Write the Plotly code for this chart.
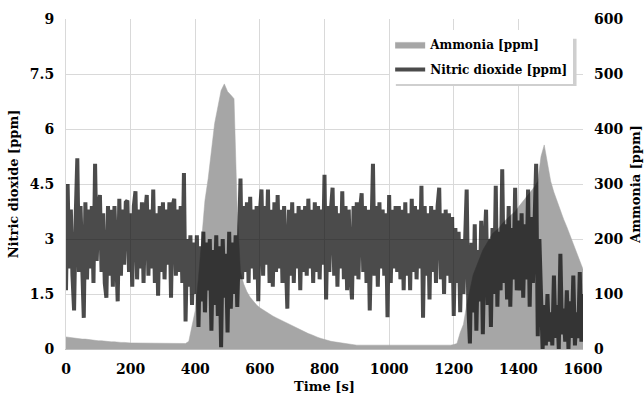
import plotly.graph_objects as go

time_s = list(range(0, 1601, 5))

nitric_dioxide_ppm = [
    1.6, 4.5, 2.2, 3.8, 2.0, 1.05, 3.6, 5.2, 2.1, 3.9,
    2.3, 0.85, 4.0, 1.9, 3.8, 2.2, 3.9, 1.8, 5.05, 2.4,
    3.8, 4.2, 2.1, 3.7, 1.8, 1.4, 3.9, 2.0, 3.8, 1.7,
    3.9, 2.2, 1.3, 4.1, 2.0, 3.8, 2.3, 4.0, 4.05, 2.1,
    3.7, 1.7, 3.9, 4.3, 1.9, 3.8, 2.2, 4.0, 1.8, 3.7,
    4.2, 2.0, 3.8, 2.2, 4.35, 1.8, 3.7, 1.45, 3.9, 2.1,
    4.0, 1.9, 3.8, 2.3, 4.0, 1.4, 3.9, 4.1, 2.0, 3.8,
    2.1, 3.9, 1.8, 4.8, 0.75, 3.0, 1.7, 3.1, 1.2, 2.9,
    1.5, 3.1, 0.6, 2.8, 1.3, 3.2, 1.0, 2.9, 1.6, 3.0,
    0.5, 2.7, 1.2, 3.1, 0.9, 2.8, 0.05, 3.0, 1.4, 2.6,
    0.45, 3.2, 1.1, 2.9, 1.5, 3.1, 1.15, 2.8, 4.65, 1.9,
    3.9, 2.1, 4.0, 1.8, 4.15, 2.2, 3.8, 1.9, 3.9, 1.3,
    3.7, 4.35, 2.0, 3.9, 2.3, 4.35, 1.8, 3.8, 1.7, 4.0,
    2.1, 4.2, 2.2, 3.8, 1.8, 3.9, 2.3, 1.1, 3.8, 2.0,
    4.0, 1.8, 3.7, 2.2, 3.9, 1.6, 3.8, 2.1, 3.9, 2.0,
    4.1, 2.2, 3.8, 1.8, 4.0, 2.1, 3.9, 1.9, 3.8, 2.3,
    4.75, 1.35, 3.9, 2.1, 3.8, 4.4, 2.0, 3.9, 1.7, 3.7,
    2.2, 4.3, 1.9, 3.9, 1.6, 3.8, 2.1, 1.35, 3.9, 2.0,
    4.0, 1.9, 3.8, 4.25, 2.1, 3.9, 1.8, 3.8, 1.05, 3.7,
    5.05, 2.0, 3.9, 1.7, 4.0, 2.2, 3.8, 2.0, 3.7, 0.87,
    4.2, 1.8, 3.8, 2.2, 3.9, 2.1, 3.9, 1.9, 3.8, 1.6,
    4.0, 2.0, 3.7, 1.6, 4.1, 2.1, 3.9, 1.9, 3.8, 2.2,
    4.45, 0.85, 3.9, 2.0, 3.7, 1.35, 3.9, 2.1, 3.8, 1.8,
    3.9, 4.4, 1.9, 3.7, 1.5, 3.8, 2.0, 3.7, 1.8, 3.6,
    0.9, 3.3, 1.8, 3.2, 1.0, 3.0, 1.5, 2.9, 4.35, 1.2,
    0.15, 2.9, 1.0, 3.4, 0.5, 2.7, 1.3, 3.5, 0.4, 2.8,
    3.8, 1.2, 3.0, 0.6, 3.3, 1.5, 4.45, 1.15, 3.2, 1.6,
    4.9, 1.8, 3.4, 1.35, 3.9, 1.15, 3.3, 1.9, 4.4, 1.6,
    3.5, 1.6, 3.7, 1.4, 3.4, 1.9, 4.35, 1.15, 3.6, 1.8,
    3.3, 5.05, 0.35, 3.0, 1.5, 0.0, 1.2, 0.1, 1.5, 0.2,
    1.0, 0.1, 2.0, 0.3, 1.2, 0.0, 2.6, 0.4, 1.1, 0.2,
    1.6, 0.0, 1.3, 0.3, 2.0, 0.1, 1.0, 0.3, 2.1, 0.2,
    1.5,
]

ammonia_time_s = list(range(0, 1601, 10))
ammonia_ppm = [
    22, 21, 20, 20, 19, 18, 18, 17, 16, 16,
    15, 15, 14, 14, 13, 13, 12, 12, 12, 11,
    11, 11, 11, 10, 10, 10, 10, 10, 10, 10,
    10, 10, 10, 10, 10, 10, 10, 10, 14, 40,
    70, 130, 200, 270, 310, 360, 410, 440, 470, 482,
    468, 462, 455, 250, 140, 118, 104, 94, 86, 80,
    75, 71, 67, 63, 60, 57, 54, 51, 48, 45,
    42, 39, 36, 33, 30, 28, 26, 23, 21, 19,
    17, 16, 14, 13, 12, 11, 10, 9, 8, 8,
    7, 7, 7, 7, 6, 6, 6, 6, 6, 6,
    6, 6, 6, 6, 6, 6, 6, 6, 7, 7,
    7, 7, 7, 7, 7, 7, 7, 7, 7, 7,
    8, 10, 30, 45, 80, 110, 135, 150, 165, 180,
    190, 200, 210, 215, 220, 228, 235, 240, 245, 250,
    258, 265, 272, 280, 288, 295, 305, 350, 371, 340,
    305, 285, 268, 252, 236, 222, 206, 190, 174, 158,
    145,
]

left_ticks = [0, 1.5, 3, 4.5, 6, 7.5, 9]
left_tick_labels = ["0", "1.5", "3", "4.5", "6", "7.5", "9"]
right_ticks = [0, 100, 200, 300, 400, 500, 600]
x_ticks = [0, 200, 400, 600, 800, 1000, 1200, 1400, 1600]

FONT = "DejaVu Serif"
TXT = "#000000"

fig = go.Figure()

fig.add_trace(go.Scatter(
    x=ammonia_time_s, y=ammonia_ppm, name="Ammonia [ppm]",
    mode="lines", fill="tozeroy", fillcolor="#a6a6a6",
    line=dict(color="#a6a6a6", width=0.5),
    yaxis="y", legendgroup="a",
))
fig.add_trace(go.Scatter(
    x=time_s, y=nitric_dioxide_ppm, name="Nitric dioxide [ppm]",
    mode="lines", line=dict(color="rgba(12,12,12,0.74)", width=4),
    yaxis="y2", legendgroup="b",
))

fig.update_layout(
    width=644, height=398,
    margin=dict(l=66, r=61, t=19, b=49),
    paper_bgcolor="white", plot_bgcolor="white",
    font=dict(family=FONT, size=13, color=TXT, weight="bold"),
    xaxis=dict(
        range=[0, 1600], tickvals=x_ticks, showgrid=True, gridcolor="#d9d9d9",
        gridwidth=1, zeroline=False, showline=True, linecolor="#bfbfbf",
        ticks="", ticklabelstandoff=7, automargin=False,
        title=dict(text="Time [s]", standoff=6,
                   font=dict(family=FONT, size=13, weight="bold")),
        tickfont=dict(family=FONT, size=14, weight="bold"),
    ),
    yaxis=dict(
        range=[0, 600], tickvals=right_ticks, side="right",
        showgrid=True, gridcolor="#d9d9d9", zeroline=False, showline=False,
        ticks="", ticklabelstandoff=10, automargin=False,
        title=dict(text="Ammonia [ppm]", standoff=8,
                   font=dict(family=FONT, size=13, weight="bold")),
        tickfont=dict(family=FONT, size=14, weight="bold"),
    ),
    yaxis2=dict(
        range=[0, 9], tickvals=left_ticks, ticktext=left_tick_labels,
        overlaying="y", side="left", showgrid=False, zeroline=False,
        showline=True, linecolor="#d9d9d9", ticks="", ticklabelstandoff=8,
        automargin=False,
        title=dict(text="Nitric dioxide [ppm]", standoff=8,
                   font=dict(family=FONT, size=13, weight="bold")),
        tickfont=dict(family=FONT, size=14, weight="bold"),
    ),
    legend=dict(
        x=0.627, y=0.967, xanchor="left", yanchor="top",
        bgcolor="white", borderwidth=0, tracegroupgap=6,
        font=dict(family=FONT, size=12, weight="bold"),
    ),
    shapes=[dict(
        type="rect", xref="paper", yref="paper",
        x0=0.638, x1=0.9875, y0=0.797, y1=0.94,
        fillcolor="#cfcfcf", line=dict(width=0), layer="above",
    )],
    showlegend=True,
)

fig.write_html("out.html")
